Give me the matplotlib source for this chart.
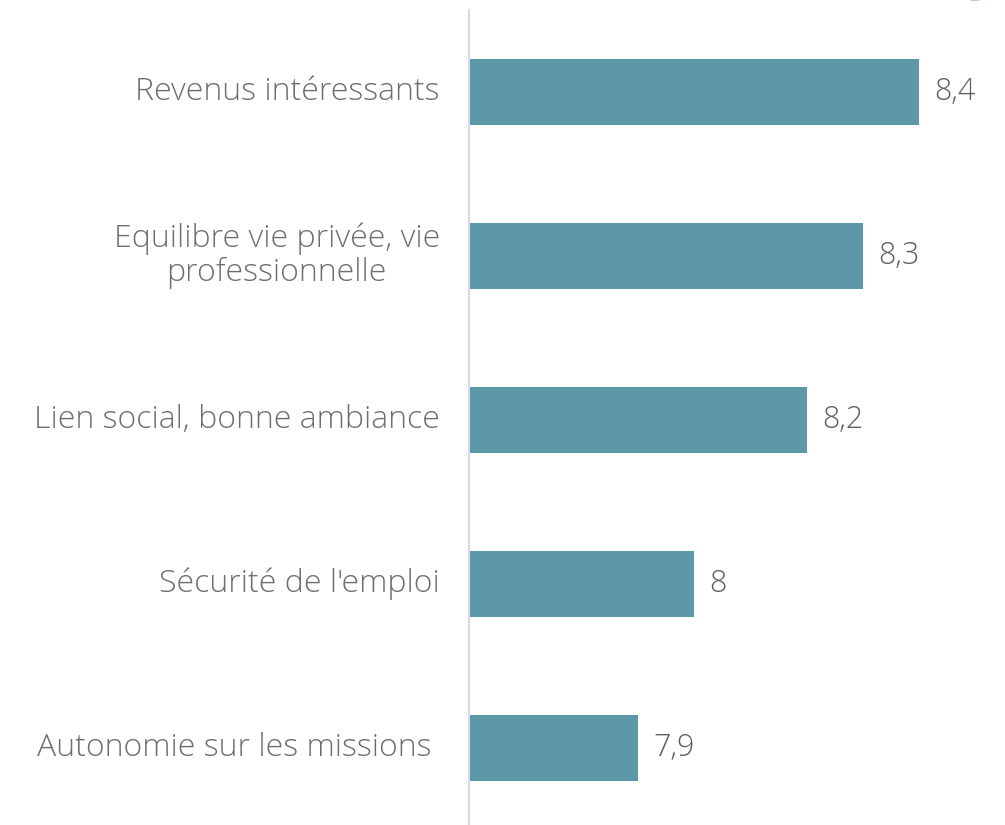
import matplotlib.pyplot as plt
from matplotlib.patches import Circle

categories = ["Revenus intéressants",
              "Equilibre vie privée, vie\nprofessionnelle",
              "Lien social, bonne ambiance",
              "Sécurité de l'emploi",
              "Autonomie sur les missions "]
values = [8.4, 8.3, 8.2, 8.0, 7.9]
value_labels = ["8,4", "8,3", "8,2", "8", "7,9"]

bar_color = "#5c98a8"
label_color = "#6e6e6e"
value_color = "#606060"

plt.rcParams['font.family'] = ['Open Sans', 'DejaVu Sans']

fig = plt.figure(figsize=(10.05, 8.25), dpi=100)
ax = fig.add_axes([469 / 1005, 0, 536 / 1005, 815 / 825])

pos = list(range(len(categories)))
ax.barh(pos, [v - 7.6 for v in values], left=7.6, height=0.4, color=bar_color)

for p, v, lab in zip(pos, values, value_labels):
    ax.annotate(lab, (v, p), xytext=(11, 0), textcoords='offset points',
                ha='left', va='center', fontsize=22, color=value_color,
                fontweight='light')

for p, c in zip(pos, categories):
    ax.annotate(c, (7.6, p), xytext=(-21, 0), textcoords='offset points',
                ha='right', va='center', multialignment='center',
                fontsize=23, color=label_color, linespacing=1.1,
                fontweight='light')

ax.set_xlim(7.6, 7.6 + 536 / 563)
ax.set_ylim(4.47, -0.5)
ax.set_xticks([])
ax.set_yticks([])
for s in ['top', 'right', 'bottom']:
    ax.spines[s].set_visible(False)
ax.spines['left'].set_color('#d9d9d9')
ax.spines['left'].set_linewidth(1.5)

# petit arc décoratif en haut à droite
fig.patches.append(Circle((975 / 1005, 1 + 26 / 825), 0.03, transform=fig.transFigure,
                          fill=False, edgecolor='#4a98b0', linewidth=2.5))

fig.savefig("out.png", dpi=100)
